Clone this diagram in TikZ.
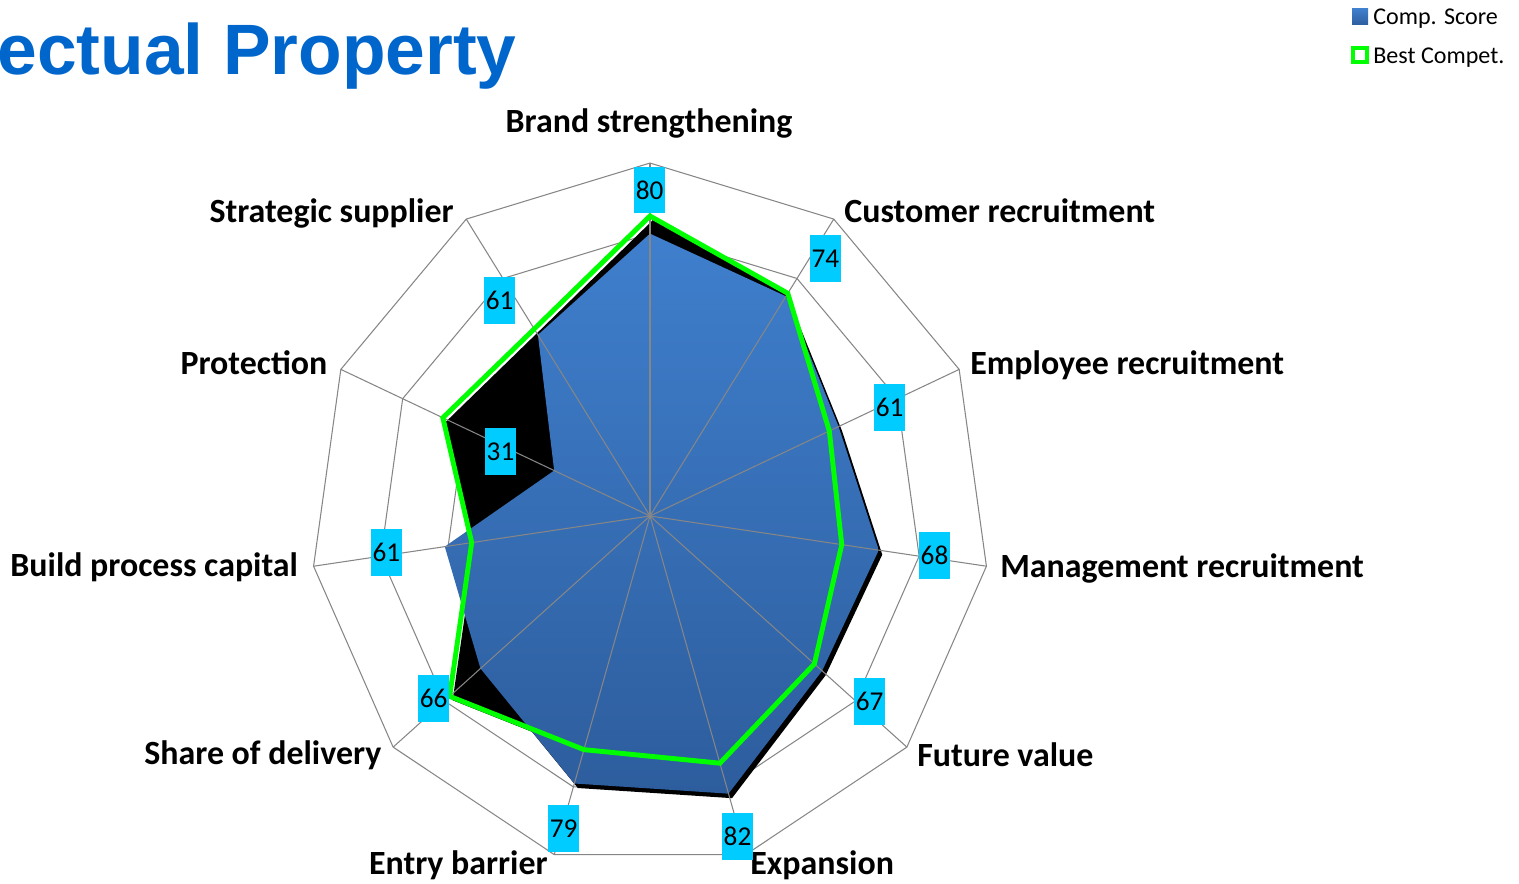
\documentclass[tikz,border=0pt]{standalone}
\usepackage{fontspec}
\setmainfont{Carlito}
\newfontfamily\titlefont{Liberation Sans}
\definecolor{titleblue}{RGB}{0,102,204}
\definecolor{scoretop}{RGB}{63,127,205}
\definecolor{scorebottom}{RGB}{45,93,157}
\definecolor{competgreen}{RGB}{0,255,0}
\definecolor{valuecyan}{RGB}{0,204,255}
\definecolor{gridgrey}{RGB}{134,134,134}
\tikzstyle{grid} = [draw=gridgrey, line width=0.6pt]
\tikzstyle{axislabel} = [inner sep=0pt, font=\fontsize{19.3}{23}\selectfont\bfseries]
\tikzstyle{value} = [fill=valuecyan, inner sep=0pt, minimum width=0.62cm, minimum height=0.93cm, font=\fontsize{15.5}{18}\selectfont]
\tikzstyle{legendtext} = [inner sep=0pt, anchor=base west, font=\fontsize{13.7}{16}\selectfont]

\begin{document}
\begin{tikzpicture}[x=0.02cm, y=-0.02cm]
	\useasboundingbox (0,0) rectangle (1519,884);
	\node[inner sep=0pt, anchor=base west, text=titleblue, font=\titlefont\fontsize{40.6}{48}\selectfont\bfseries] (title) at (-3,75) {ectual Property};

	\shade[top color=scoretop, bottom color=scorebottom] (1352,9) rectangle (1368,25);
	\node[legendtext] (legscore) at (1373,25) {Comp. Score};
	\draw[competgreen, line width=2.3pt, fill=white] (1353,48) rectangle (1367,62);
	\node[legendtext] (legcompet) at (1373,63.3) {Best Compet.};

	\coordinate (ctr) at (650,516);
	\begin{scope}[shift={(ctr)}, x=0.068cm, y=0.0706cm]
		\foreach \r in {20,40,...,100}
			\draw[grid] (90:\r) \foreach \k in {1,...,10} {-- (90-\k*360/11:\r)} -- cycle;
		\foreach \v [count=\k from 0] in {80,74,61,68,67,82,79,66,61,31,61}
			\coordinate (cs\k) at (90-\k*360/11:\v);
		\foreach \v [count=\k from 0] in {85,75,58,57,64,73,69,78,53,67,63}
			\coordinate (bc\k) at (90-\k*360/11:\v);
		\fill[black, transform canvas={xshift=0.06cm, yshift=-0.08cm}] (bc0) \foreach \k in {1,...,10} {-- (bc\k)} -- cycle;
		\fill[black, transform canvas={xshift=0.07cm, yshift=-0.09cm}] (cs0) \foreach \k in {1,...,10} {-- (cs\k)} -- cycle;
		\shade[top color=scoretop, bottom color=scorebottom] (cs0) \foreach \k in {1,...,10} {-- (cs\k)} -- cycle;
		\foreach \k in {0,...,10}
			\draw[grid] (0,0) -- (90-\k*360/11:100);
		\draw[competgreen, line width=2.8pt] (bc0) \foreach \k in {1,...,10} {-- (bc\k)} -- cycle;
	\end{scope}

	\node[axislabel, anchor=base] (brand) at (649,133) {Brand strengthening};
	\node[axislabel, anchor=base west] (customer) at (844,223) {Customer recruitment};
	\node[axislabel, anchor=base west] (employee) at (970,375) {Employee recruitment};
	\node[axislabel, anchor=base west] (management) at (1000,578) {Management recruitment};
	\node[axislabel, anchor=base west] (future) at (917,766.5) {Future value};
	\node[axislabel, anchor=base west] (expansion) at (750,875) {Expansion};
	\node[axislabel, anchor=base east] (entry) at (548,875) {Entry barrier};
	\node[axislabel, anchor=base east] (share) at (381.7,765) {Share of delivery};
	\node[axislabel, anchor=base east] (build) at (298.3,577) {Build process capital};
	\node[axislabel, anchor=base east] (protection) at (327.7,375) {Protection};
	\node[axislabel, anchor=base east] (strategic) at (454,223) {Strategic supplier};

	\node[value] (vbrand) at (649.7,190) {80};
	\node[value] (vcustomer) at (825.3,258.3) {74};
	\node[value] (vemployee) at (889.7,407.3) {61};
	\node[value] (vmanagement) at (934.5,555.3) {68};
	\node[value] (vfuture) at (869.7,701.7) {67};
	\node[value] (vexpansion) at (737.5,836.7) {82};
	\node[value] (ventry) at (563.7,828.3) {79};
	\node[value] (vshare) at (433.7,698.3) {66};
	\node[value] (vbuild) at (386.3,552.3) {61};
	\node[value] (vprotection) at (500.5,451.3) {31};
	\node[value] (vstrategic) at (499.7,300.3) {61};
\end{tikzpicture}
\end{document}
